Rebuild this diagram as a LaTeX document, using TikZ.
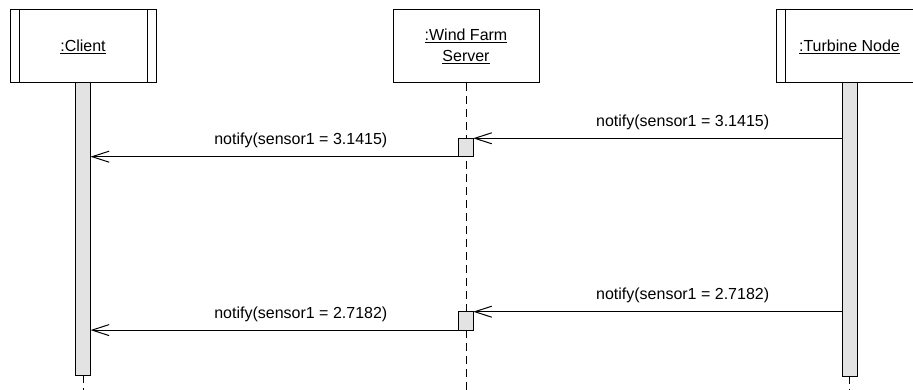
\documentclass[tikz,border=0pt]{standalone}
\usepackage{fontspec}
\setmainfont{Liberation Sans}
\usetikzlibrary{arrows.meta}
\begin{document}
\begin{tikzpicture}[x=1pt,y=-1pt,
  lbl/.style={font=\fontsize{16pt}{19pt}\selectfont, inner sep=0pt},
  objbox/.style={draw, line width=1pt, fill=white, minimum width=146pt, minimum height=73pt, inner sep=0pt, outer sep=0pt, font=\fontsize{16pt}{22pt}\selectfont, align=center},
  actbar/.style={draw, line width=1pt, fill=black!11, minimum width=15pt, inner sep=0pt, outer sep=0pt, anchor=north},
  execbox/.style={draw, line width=1pt, fill=black!11, minimum width=14.3pt, minimum height=18.4pt, inner sep=0pt, outer sep=0pt, anchor=north},
  lifeline/.style={line width=1pt, dash pattern=on 8pt off 5pt},
  inbar/.style={line width=1pt},
  msg/.style={line width=1pt, -{Straight Barb[length=17pt,width=11pt]}},
]
\useasboundingbox (0,0) rectangle (913,390);
\clip (0,0) rectangle (913,390);

% object boxes
\node[objbox] (client) at (83,46.5) {\underline{:Client}};
\node[objbox] (server) at (466,46.5) {\underline{:Wind Farm}\\[-1pt]\underline{Server}};
\node[objbox] (turbine) at (849.5,46.5) {\underline{:Turbine Node}};

\draw[inbar] ([xshift=9pt]client.north west) -- ([xshift=9pt]client.south west);
\draw[inbar] ([xshift=-9pt]client.north east) -- ([xshift=-9pt]client.south east);
\draw[inbar] ([xshift=9pt]turbine.north west) -- ([xshift=9pt]turbine.south west);
\draw[inbar] ([xshift=-9pt]turbine.north east) -- ([xshift=-9pt]turbine.south east);

% lifeline ends
\coordinate (cend) at (83,392);
\coordinate (send) at (466,392);
\coordinate (tend) at (849.5,392);

% activation bars
\node[actbar, minimum height=292pt] (cbar) at (client.south) {};
\node[actbar, minimum height=293pt] (tbar) at (turbine.south) {};

\draw[lifeline] (cbar.south) -- (cend);
\draw[lifeline] (tbar.south) -- (tend);
\draw[lifeline] (server.south) -- (send);

% execution boxes on server
\node[execbox] (e1) at (466,138.3) {};
\node[execbox] (e2) at (466,311.7) {};

% messages
\draw[msg] (tbar.west |- e1.north east) -- (e1.north east)
  node[lbl, pos=0.432, yshift=16pt] {notify(sensor1 = 3.1415)};
\draw[msg] (e1.south west) -- (cbar.east |- e1.south west)
  node[lbl, pos=0.429, yshift=16pt] {notify(sensor1 = 3.1415)};
\draw[msg] (tbar.west |- e2.north east) -- (e2.north east)
  node[lbl, pos=0.432, yshift=16pt] {notify(sensor1 = 2.7182)};
\draw[msg] (e2.south west) -- (cbar.east |- e2.south west)
  node[lbl, pos=0.429, yshift=16pt] {notify(sensor1 = 2.7182)};
\end{tikzpicture}
\end{document}
